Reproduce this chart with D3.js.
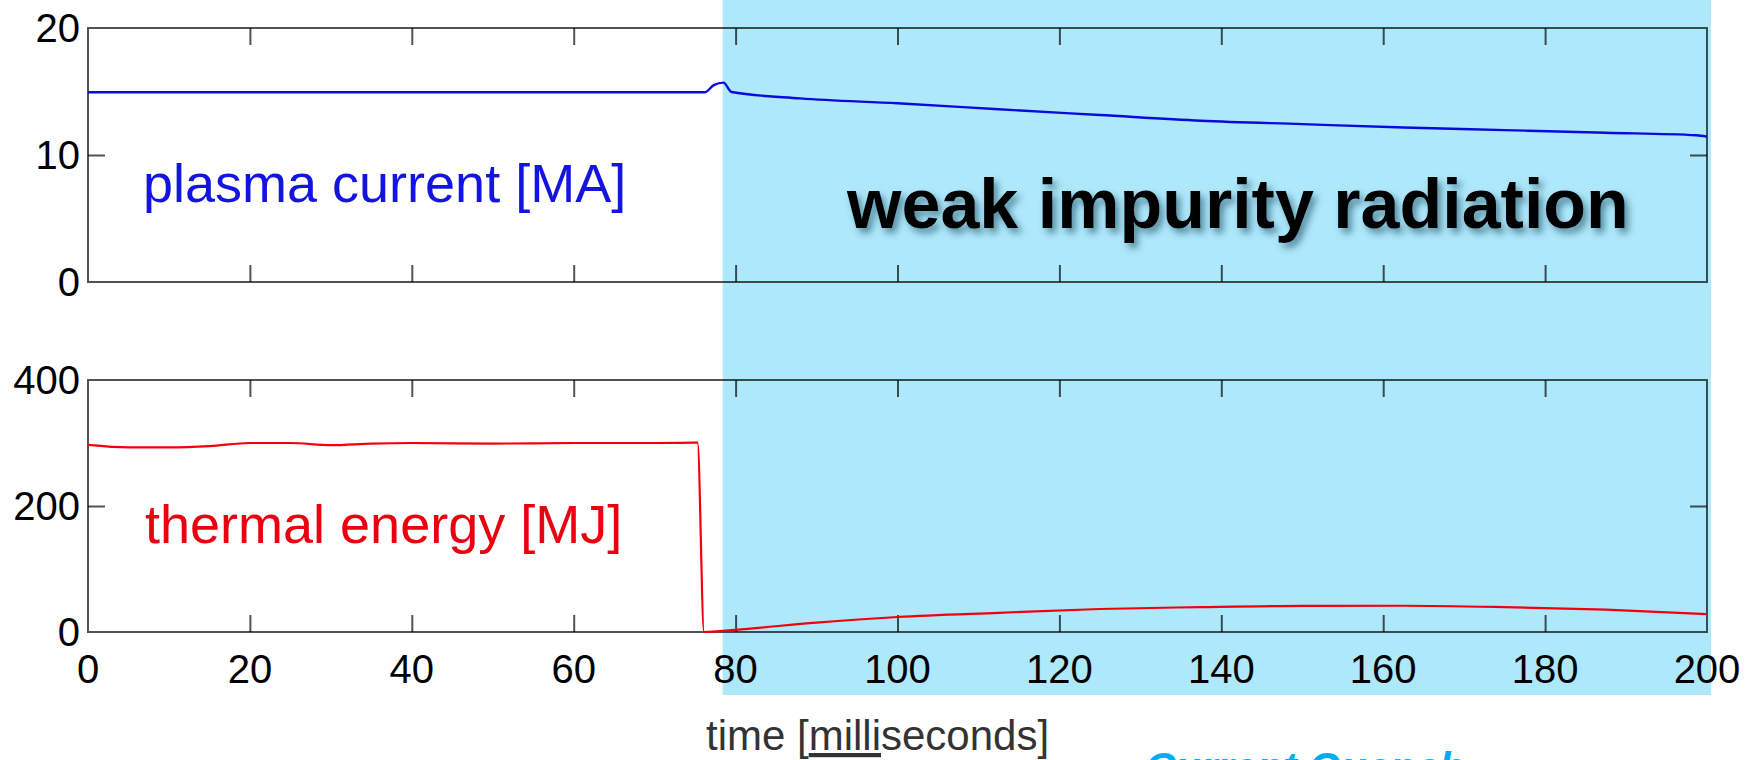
<!DOCTYPE html>
<html><head><meta charset="utf-8">
<script src="https://cdn.jsdelivr.net/npm/d3@7"></script>
<style>html,body{margin:0;padding:0;background:#fff;overflow:hidden}</style>
</head><body>
<svg id="chart" width="1762" height="760"></svg>
<script>
// ---- data ----
const plasmaTime    = [0, 76.2, 77.3, 78.5, 79.5, 88, 100, 112.5, 125, 137.5, 150, 162.5, 175, 187.5, 198.7, 200];
const plasmaCurrent = [14.94, 14.94, 15.5, 15.7, 14.96, 14.46, 14.07, 13.6, 13.15, 12.7, 12.43, 12.17, 11.96, 11.75, 11.55, 11.44];
const energyTime    = [0, 5, 10, 15, 20, 25, 30, 35, 40, 50, 60, 70, 75.3, 76.1, 80, 90, 100, 112.5, 125, 137.5, 150, 162.5, 175, 187.5, 200];
const thermalEnergy = [297, 293, 293, 295, 300, 300, 296.5, 299, 300, 299, 300, 300, 300.5, 0, 3.5, 15, 23.8, 30.5, 36.5, 39.5, 41.5, 41.7, 39.5, 35.5, 28.5];
const timeTicks     = [0, 20, 40, 60, 80, 100, 120, 140, 160, 180, 200];
const currentTicks  = [0, 10, 20];
const energyTicks   = [0, 200, 400];
const shadeSpan     = [78.4, 200.5];
const labels = {
  current: "plasma current [MA]",
  energy: "thermal energy [MJ]",
  regime: "weak impurity radiation",
  bottom: "Current Quench"
};

// ---- layout ----
const svg = d3.select("#chart");
const FONT = "'Liberation Sans', Arial, Helvetica, sans-serif";
const x = d3.scaleLinear().domain([0, 200]).range([88, 1707]);
const yTop = d3.scaleLinear().domain([0, 20]).range([282, 28]);
const yBot = d3.scaleLinear().domain([0, 400]).range([632, 380]);
const TICK = 17;
const axisStroke = "#000", axisOpacity = 0.68;

const defs = svg.append("defs");
const f = defs.append("filter").attr("id", "shadow").attr("x", "-10%").attr("y", "-30%").attr("width", "120%").attr("height", "160%");
f.append("feDropShadow").attr("dx", 4).attr("dy", 5).attr("stdDeviation", 3.5)
  .attr("flood-color", "#1b4f63").attr("flood-opacity", 0.6);

svg.append("rect").attr("width", 1762).attr("height", 760).attr("fill", "#fff");

// shaded region
svg.append("rect")
  .attr("x", x(shadeSpan[0])).attr("y", 0)
  .attr("width", x(shadeSpan[1]) - x(shadeSpan[0])).attr("height", 695)
  .attr("fill", "#aee8fb");

function panel(y, yTicks, midTick) {
  const g = svg.append("g");
  const [y0, y1] = y.range();
  g.append("g").attr("transform", `translate(0,${y1})`)
    .call(d3.axisTop(x).tickValues(timeTicks.slice(1, -1)).tickSizeInner(-TICK).tickSizeOuter(0).tickFormat(""));
  g.append("g").attr("transform", `translate(0,${y0})`)
    .call(d3.axisBottom(x).tickValues(timeTicks.slice(1, -1)).tickSizeInner(-TICK).tickSizeOuter(0).tickFormat(""));
  g.append("g").attr("transform", `translate(${x.range()[0]},0)`)
    .call(d3.axisLeft(y).tickValues([midTick]).tickSizeInner(-TICK).tickSizeOuter(0).tickFormat(""));
  g.append("g").attr("transform", `translate(${x.range()[1]},0)`)
    .call(d3.axisRight(y).tickValues([midTick]).tickSizeInner(-TICK).tickSizeOuter(0).tickFormat(""));
  g.selectAll(".domain").remove();
  g.selectAll(".tick line").attr("stroke", axisStroke).attr("stroke-opacity", axisOpacity).attr("stroke-width", 2);
  g.append("rect")
    .attr("x", x.range()[0]).attr("y", y1)
    .attr("width", x.range()[1] - x.range()[0]).attr("height", y0 - y1)
    .attr("fill", "none").attr("stroke", axisStroke).attr("stroke-opacity", axisOpacity).attr("stroke-width", 2);
  g.selectAll("text.ylab").data(yTicks).join("text")
    .attr("class", "ylab")
    .attr("x", 80).attr("y", d => y(d)).attr("dy", "0.36em")
    .attr("text-anchor", "end")
    .attr("font-family", FONT).attr("font-size", 40).attr("fill", "#000")
    .text(d => d);
}
panel(yTop, currentTicks, 10);
panel(yBot, energyTicks, 200);

// x tick labels
svg.selectAll("text.xlab").data(timeTicks).join("text")
  .attr("class", "xlab")
  .attr("x", d => x(d)).attr("y", 683)
  .attr("text-anchor", "middle")
  .attr("font-family", FONT).attr("font-size", 40).attr("fill", "#000")
  .text(d => d);

// lines
const cur = plasmaTime.map((t, i) => [t, plasmaCurrent[i]]);
const en = energyTime.map((t, i) => [t, thermalEnergy[i]]);
svg.append("path").datum(cur)
  .attr("d", d3.line().x(d => x(d[0])).y(d => yTop(d[1])).curve(d3.curveMonotoneX))
  .attr("fill", "none").attr("stroke", "#0a0adf").attr("stroke-width", 2.4);
svg.append("path").datum(en)
  .attr("d", d3.line().x(d => x(d[0])).y(d => yBot(d[1])).curve(d3.curveMonotoneX))
  .attr("fill", "none").attr("stroke", "#f2000c").attr("stroke-width", 2.2);

// in-plot labels
svg.append("text").attr("x", 143).attr("y", 202)
  .attr("font-family", FONT).attr("font-size", 54).attr("fill", "#1414e0")
  .text(labels.current);
svg.append("text").attr("x", 145).attr("y", 543)
  .attr("font-family", FONT).attr("font-size", 54).attr("fill", "#ec0010")
  .text(labels.energy);
svg.append("text").attr("x", 847).attr("y", 228)
  .attr("font-family", FONT).attr("font-size", 70).attr("font-weight", "bold").attr("fill", "#000")
  .attr("filter", "url(#shadow)")
  .text(labels.regime);

// x axis title
const xt = svg.append("text").attr("x", 706).attr("y", 750)
  .attr("font-family", FONT).attr("font-size", 42).attr("fill", "#333");
xt.append("tspan").text("time [");
xt.append("tspan").attr("text-decoration", "underline").text("milli");
xt.append("tspan").text("seconds]");

// partially visible bottom caption (mostly below the picture's edge)
svg.append("text").attr("x", 1145).attr("y", 782)
  .attr("font-family", FONT).attr("font-size", 42).attr("font-weight", "bold").attr("font-style", "italic")
  .attr("fill", "#00aeef")
  .text(labels.bottom);
</script>
</body></html>
